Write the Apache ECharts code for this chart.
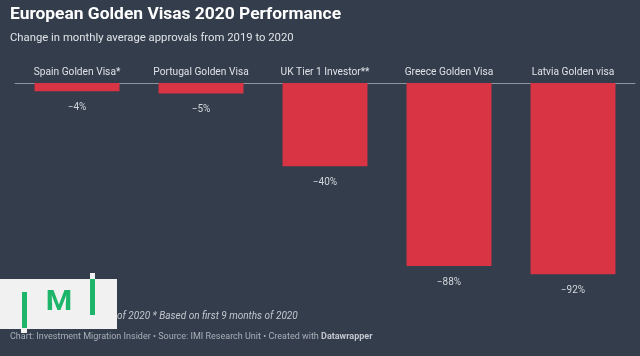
<!DOCTYPE html>
<html><head><meta charset="utf-8">
<script src="https://cdn.jsdelivr.net/npm/echarts@6/dist/echarts.min.js"></script>
<style>html,body{margin:0;padding:0;background:#333d4c;}#c{width:640px;height:356px;}</style>
</head><body><div id="c"></div>
<script>
const categories = ['Spain Golden Visa*', 'Portugal Golden Visa', 'UK Tier 1 Investor**', 'Greece Golden Visa', 'Latvia Golden visa'];
const changes = [-4, -5, -40, -88, -92];
const valueLabels = ['−4%', '−5%', '−40%', '−88%', '−92%'];

const FONT = 'Roboto, "Noto Sans", sans-serif';
const chart = echarts.init(document.getElementById('c'), null, {renderer: 'canvas'});
chart.setOption({
  backgroundColor: '#333d4c',
  animation: false,
  grid: {left: 15, right: 5, top: 83, height: 208},
  xAxis: {
    type: 'category', position: 'top', data: categories,
    axisLine: {show: true, lineStyle: {color: '#8e949d', width: 1}},
    axisTick: {show: false},
    axisLabel: {color: '#dfe2e6', fontSize: 10.2, fontFamily: FONT, margin: 6, interval: 0}
  },
  yAxis: {
    type: 'value', min: -100, max: 0, show: false,
    splitLine: {show: false}
  },
  series: [{
    type: 'bar', data: changes, barCategoryGap: '31.5%',
    itemStyle: {color: '#d93444'},
    label: {
      show: true, position: 'bottom', distance: 11,
      color: '#d3d7dc', fontSize: 10, fontFamily: FONT,
      formatter: p => valueLabels[p.dataIndex]
    }
  }],
  graphic: [
    {type: 'text', left: 10, top: 6, style: {text: 'European Golden Visas 2020 Performance', fill: '#ffffff', font: 'bold 17.4px ' + FONT}},
    {type: 'text', left: 10, top: 33, style: {text: 'Change in monthly average approvals from 2019 to 2020', fill: '#e1e4e8', font: '11.3px ' + FONT}},
    {type: 'text', x: 116, y: 316, style: {text: '** Based on first 6 months ', fill: '#c3c7cd', font: 'italic 10px ' + FONT, textAlign: 'right', textVerticalAlign: 'middle'}},
    {type: 'text', x: 117, y: 316, style: {text: 'of 2020 * Based on first 9 months of 2020', fill: '#c3c7cd', font: 'italic 10px ' + FONT, textAlign: 'left', textVerticalAlign: 'middle'}},
    {type: 'text', x: 10, y: 337, style: {text: 'Chart: Investment Migration Insider • Source: IMI Research Unit • Created with {b|Datawrapper}', fill: '#a9afb8', font: '9px ' + FONT, textVerticalAlign: 'middle', rich: {b: {fontWeight: 'bold', fill: '#c4c8ce', fontSize: 9, fontFamily: FONT}}}},
    {type: 'group', z: 100, children: [
      {type: 'rect', shape: {x: 0, y: 279, width: 117, height: 50}, style: {fill: '#f1f1f1'}},
      {type: 'rect', shape: {x: 22, y: 292, width: 5, height: 37}, style: {fill: '#1db56a'}},
      {type: 'rect', shape: {x: 21, y: 328, width: 6, height: 5}, style: {fill: '#f1f1f1'}},
      {type: 'rect', shape: {x: 90, y: 279, width: 5, height: 36}, style: {fill: '#1db56a'}},
      {type: 'rect', shape: {x: 90, y: 273, width: 5, height: 6}, style: {fill: '#f1f1f1'}},
      {type: 'text', x: 59, y: 303, scaleX: 1.12, originX: 0, originY: 0, style: {text: 'M', fill: '#1db56a', font: 'bold 27px ' + FONT, textAlign: 'center', textVerticalAlign: 'middle'}}
    ]}
  ]
});
</script></body></html>
